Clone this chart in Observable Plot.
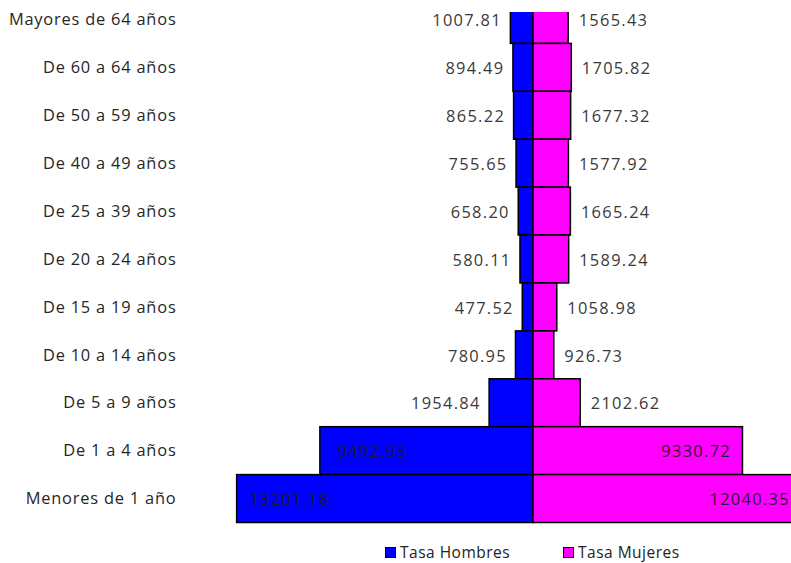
<!DOCTYPE html>
<html>
<head>
<meta charset="utf-8">
<script src="https://cdn.jsdelivr.net/npm/d3@7"></script>
<script src="https://cdn.jsdelivr.net/npm/@observablehq/plot@0.6"></script>
<style>
  html, body { margin: 0; padding: 0; background: #fff; }
  #wrap { width: 791px; height: 563px; position: relative; overflow: hidden; font-family: "Open Sans", sans-serif; }
  #legend { position: absolute; top: 542px; left: 0; width: 791px; height: 21px; font-size: 15.5px; line-height: 21px; color: #222; letter-spacing: 0.5px; }
  .item { position: absolute; top: 0; display: flex; align-items: center; height: 21px; white-space: nowrap; }
  .sw { width: 9px; height: 9px; border: 1px solid #000; margin-right: 4px; flex: none; }
</style>
</head>
<body>
<div id="wrap"><div id="chart"></div><div id="legend"></div></div>
<script>
const groups = [
  "Mayores de 64 años", "De 60 a 64 años", "De 50 a 59 años", "De 40 a 49 años",
  "De 25 a 39 años", "De 20 a 24 años", "De 15 a 19 años", "De 10 a 14 años",
  "De 5 a 9 años", "De 1 a 4 años", "Menores de 1 año"
];
const hombres = [1007.81, 894.49, 865.22, 755.65, 658.20, 580.11, 477.52, 780.95, 1954.84, 9492.93, 13201.18];
const mujeres = [1565.43, 1705.82, 1677.32, 1577.92, 1665.24, 1589.24, 1058.98, 926.73, 2102.62, 9330.72, 12040.35];
const seriesNames = ["Tasa Hombres", "Tasa Mujeres"];
const seriesColors = ["#0000FF", "#FF00FF"];

const men = groups.map((g, i) => ({group: g, value: hombres[i], x: -hombres[i]}));
const women = groups.map((g, i) => ({group: g, value: mujeres[i], x: mujeres[i]}));
const fmt = d3.format(".2f");
const small = d => d.value <= 5000;
const labelStyle = {fontSize: 16.4, fill: "#3a3a3a", dy: 1};

const plot = Plot.plot({
  width: 791,
  height: 530,
  marginLeft: 180,
  marginRight: 0,
  marginTop: 12,
  marginBottom: 0,
  style: {fontFamily: "Open Sans, sans-serif", background: "#fff"},
  x: {domain: [0, 10000], range: [533, 757.5], axis: null},
  y: {domain: groups, range: [-4.5, 522.5], padding: 0, round: false, label: null},
  marks: [
    Plot.barX(men, {x: "x", y: "group", fill: seriesColors[0], stroke: "#000", strokeWidth: 1.5, clip: true}),
    Plot.barX(women, {x: "x", y: "group", fill: seriesColors[1], stroke: "#000", strokeWidth: 1.5, clip: true}),
    Plot.text(men.filter(small), {x: "x", y: "group", text: d => fmt(d.value), textAnchor: "end", dx: -9, ...labelStyle}),
    Plot.text(men.filter(d => d.value > 5000 && d.value < 10000), {x: "x", y: "group", text: d => fmt(d.value), textAnchor: "start", ...labelStyle, dx: 17, fill: "#1a1a2a"}),
    Plot.text(men.filter(d => d.value >= 10000), {x: "x", y: "group", text: d => fmt(d.value), textAnchor: "start", ...labelStyle, dx: 12, fill: "#1a1a2a"}),
    Plot.text(women.filter(small), {x: "x", y: "group", text: d => fmt(d.value), textAnchor: "start", dx: 10, ...labelStyle}),
    Plot.text(women.filter(d => d.value > 5000 && d.value < 10000), {x: "x", y: "group", text: d => fmt(d.value), textAnchor: "end", dx: -12, ...labelStyle, fill: "#2a1a2a"}),
    Plot.text(women.filter(d => d.value >= 10000), {x: "x", y: "group", text: d => fmt(d.value), textAnchor: "end", dx: -14, ...labelStyle, fill: "#2a1a2a"}),
    Plot.axisY({anchor: "left", tickSize: 0, tickPadding: 4, fontSize: 16.4, fill: "#262626", label: null})
  ]
});
document.getElementById("chart").appendChild(plot);

// letter spacing to mimic the wider original face
d3.select(plot).selectAll("g[aria-label='text'] text").style("letter-spacing", "1.3px");
d3.select(plot).selectAll("g[aria-label='y-axis tick label'] text").style("letter-spacing", "0.8px");

const legend = document.getElementById("legend");
const lx = [385, 563];
seriesNames.forEach((name, i) => {
  const it = document.createElement("div");
  it.className = "item";
  it.style.left = lx[i] + "px";
  const sw = document.createElement("div");
  sw.className = "sw";
  sw.style.background = seriesColors[i];
  const t = document.createElement("span");
  t.textContent = name;
  it.appendChild(sw); it.appendChild(t);
  legend.appendChild(it);
});
</script>
</body>
</html>
